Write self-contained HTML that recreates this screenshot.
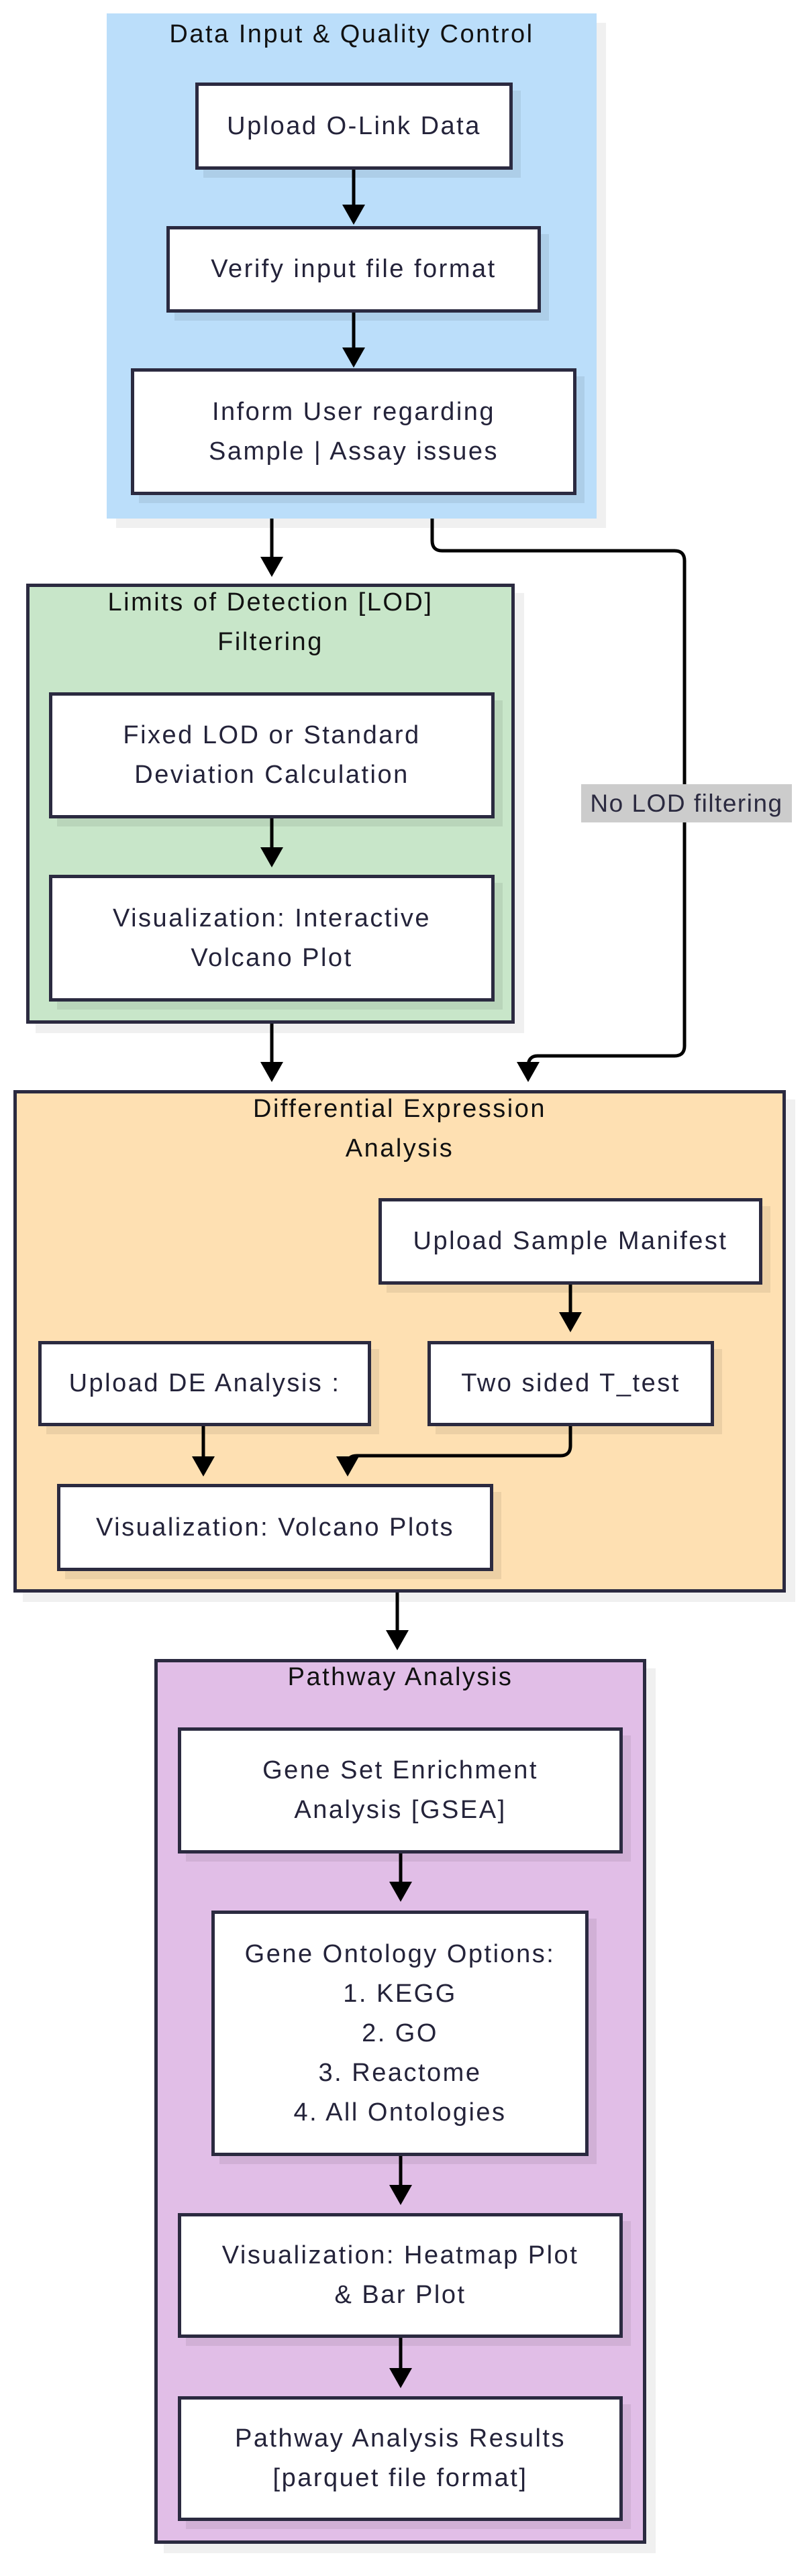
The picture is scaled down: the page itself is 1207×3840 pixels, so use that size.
<!DOCTYPE html>
<html><head><meta charset="utf-8">
<style>
html,body{margin:0;padding:0;background:#fff;}
body{width:1207px;height:3840px;position:relative;overflow:hidden;font-family:"Liberation Sans",sans-serif;}
.g{position:absolute;box-sizing:border-box;box-shadow:14px 14px 0 rgba(0,0,0,0.06);}
.n{position:absolute;box-sizing:border-box;background:#fff;border:5px solid #2b2a40;box-shadow:12px 12px 0 rgba(0,0,0,0.07);display:flex;align-items:center;justify-content:center;text-align:center;color:#24233a;font-size:38px;letter-spacing:2.5px;line-height:59px;}
.t{position:absolute;text-align:center;color:#111;font-size:38px;letter-spacing:2.5px;line-height:59px;}
svg{position:absolute;left:0;top:0;}
</style></head><body>

<div class="g" style="left:159px;top:20px;width:730px;height:753px;background:#bbdefa;"></div>
<div class="g" style="left:39px;top:870px;width:728px;height:656px;background:#c8e6c9;border:5px solid #2b2a40;"></div>
<div class="g" style="left:20px;top:1625px;width:1151px;height:749px;background:#fee0b2;border:5px solid #2b2a40;"></div>
<div class="g" style="left:230px;top:2473px;width:733px;height:1319px;background:#e1bee7;border:5px solid #2b2a40;"></div>

<div class="t" style="left:159px;width:730px;top:22px;">Data Input &amp; Quality Control</div>
<div class="t" style="left:39px;width:728px;top:869px;">Limits of Detection [LOD]<br>Filtering</div>
<div class="t" style="left:20px;width:1151px;top:1624px;">Differential Expression<br>Analysis</div>
<div class="t" style="left:230px;width:733px;top:2471px;">Pathway Analysis</div>

<div class="n" style="left:291px;top:123px;width:473px;height:130px;">Upload O-Link Data</div>
<div class="n" style="left:248px;top:337px;width:558px;height:129px;">Verify input file format</div>
<div class="n" style="left:195px;top:549px;width:664px;height:189px;">Inform User regarding<br>Sample | Assay issues</div>

<div class="n" style="left:73px;top:1032px;width:664px;height:188px;">Fixed LOD or Standard<br>Deviation Calculation</div>
<div class="n" style="left:73px;top:1304px;width:664px;height:189px;">Visualization: Interactive<br>Volcano Plot</div>

<div class="n" style="left:564px;top:1786px;width:572px;height:129px;">Upload Sample Manifest</div>
<div class="n" style="left:57px;top:1999px;width:496px;height:127px;">Upload DE Analysis :</div>
<div class="n" style="left:637px;top:1999px;width:427px;height:127px;">Two sided T_test</div>
<div class="n" style="left:85px;top:2212px;width:650px;height:130px;">Visualization: Volcano Plots</div>

<div class="n" style="left:265px;top:2575px;width:663px;height:188px;">Gene Set Enrichment<br>Analysis [GSEA]</div>
<div class="n" style="left:315px;top:2848px;width:562px;height:366px;">Gene Ontology Options:<br>1. KEGG<br>2. GO<br>3. Reactome<br>4. All Ontologies</div>
<div class="n" style="left:265px;top:3299px;width:663px;height:186px;">Visualization: Heatmap Plot<br>&amp; Bar Plot</div>
<div class="n" style="left:265px;top:3572px;width:663px;height:186px;">Pathway Analysis Results<br>[parquet file format]</div>

<svg width="1207" height="3840" viewBox="0 0 1207 3840">
<g stroke="#000" stroke-width="5" fill="none">
<path d="M527 253 V305"/>
<path d="M527 466 V518"/>
<path d="M405 773 V840"/>
<path d="M644 773 V806 Q644 821 659 821 H1005 Q1020 821 1020 836 V1559 Q1020 1574 1005 1574 H801 Q787 1574 787 1590 V1595"/>
<path d="M405 1220 V1265"/>
<path d="M405 1526 V1595"/>
<path d="M850 1915 V1967"/>
<path d="M303 2126 V2182"/>
<path d="M850 2126 V2155 Q850 2170 835 2170 H532 Q518 2170 518 2182"/>
<path d="M592 2374 V2440"/>
<path d="M597 2763 V2815"/>
<path d="M597 3214 V3267"/>
<path d="M597 3485 V3540"/>
</g>
<g fill="#000">
<polygon points="510,305 544,305 527,335"/>
<polygon points="510,518 544,518 527,548"/>
<polygon points="388,830 422,830 405,860"/>
<polygon points="388,1263 422,1263 405,1293"/>
<polygon points="388,1583 422,1583 405,1613"/>
<polygon points="770,1583 804,1583 787,1613"/>
<polygon points="833,1956 867,1956 850,1986"/>
<polygon points="286,2171 320,2171 303,2201"/>
<polygon points="501,2171 535,2171 518,2201"/>
<polygon points="575,2430 609,2430 592,2460"/>
<polygon points="580,2805 614,2805 597,2835"/>
<polygon points="580,3257 614,3257 597,3287"/>
<polygon points="580,3530 614,3530 597,3560"/>
</g>
</svg>
<div style="position:absolute;left:866px;top:1169px;width:314px;height:57px;background:#cccccc;color:#2b2a40;font-size:37px;letter-spacing:1.5px;line-height:57px;text-align:center;white-space:nowrap;">No LOD filtering</div>
</body></html>
